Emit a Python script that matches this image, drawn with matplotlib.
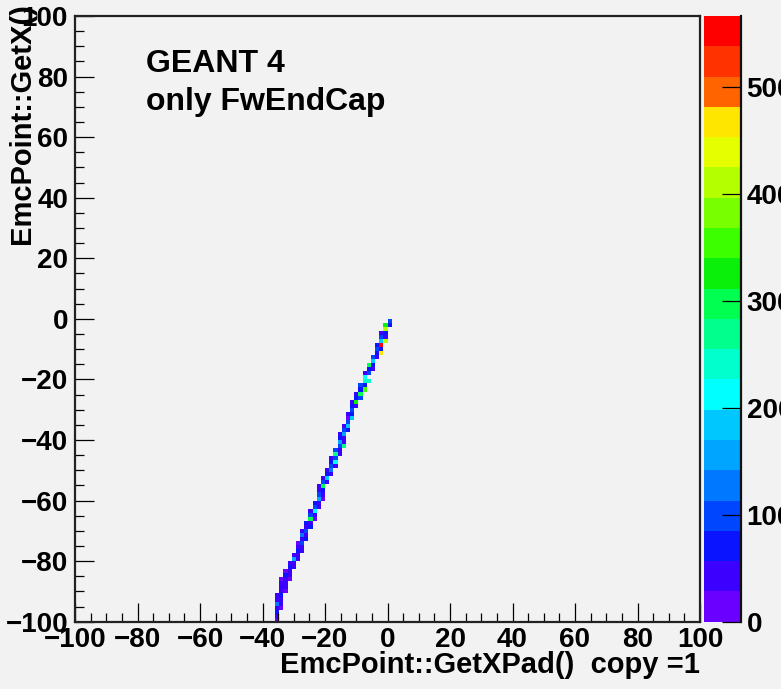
import numpy as np
import matplotlib
matplotlib.use("Agg")
import matplotlib.pyplot as plt
from matplotlib.colors import ListedColormap, BoundaryNorm

plt.rcParams['font.family'] = ['Liberation Sans', 'DejaVu Sans']
plt.rcParams['font.weight'] = 'bold'

# hit cells, one row of y per line: x centre, y centre, entries
cell_x = [0.67,
          -0.67, 0.67,
          -0.67,
          -0.67, -2.0,
          -2.0, -0.67,
          -0.67, -2.0,
          -2.0, -3.33,
          -3.33, -2.0,
          -2.0, -3.33,
          -4.67, -3.33,
          -4.67,
          -6.0, -4.67,
          -6.0, -4.67,
          -7.33, -6.0,
          -7.33,
          -6.0, -7.33,
          -8.67, -7.33,
          -8.67, -7.33,
          -8.67, -10.0,
          -8.67, -10.0,
          -10.0, -11.33,
          -10.0, -11.33,
          -11.33,
          -11.33, -12.67,
          -12.67, -11.33,
          -12.67,
          -12.67, -14.0,
          -12.67, -14.0,
          -14.0, -15.33,
          -14.0, -15.33,
          -15.33, -14.0,
          -15.33, -14.0,
          -15.33, -16.67,
          -16.67, -15.33,
          -16.67, -18.0,
          -16.67, -18.0,
          -18.0, -16.67,
          -18.0, -19.33,
          -19.33, -18.0,
          -19.33, -20.67,
          -19.33, -20.67,
          -20.67, -22.0,
          -20.67, -22.0,
          -22.0, -20.67,
          -22.0, -20.67,
          -22.0, -23.33,
          -23.33, -22.0,
          -23.33, -24.67,
          -23.33, -24.67,
          -24.67, -23.33,
          -24.67, -26.0,
          -26.0, -24.67,
          -26.0, -27.33,
          -26.0, -27.33,
          -27.33, -26.0,
          -27.33, -28.67,
          -27.33, -28.67,
          -28.67, -27.33,
          -28.67, -30.0,
          -30.0, -28.67,
          -30.0, -31.33,
          -30.0, -31.33,
          -31.33, -32.67,
          -31.33, -32.67,
          -32.67, -31.33, -34.0,
          -32.67, -34.0,
          -32.67, -34.0,
          -34.0, -32.67,
          -34.0, -35.33,
          -34.0, -35.33,
          -35.33, -34.0,
          -35.33, -34.0,
          -35.33,
          -35.33,
          -35.33]
cell_y = [-0.67,
          -2.0, -2.0,
          -3.33,
          -4.67, -4.67,
          -6.0, -6.0,
          -7.33, -7.33,
          -8.67, -8.67,
          -10.0, -10.0,
          -11.33, -11.33,
          -12.67, -12.67,
          -14.0,
          -15.33, -15.33,
          -16.67, -16.67,
          -18.0, -18.0,
          -19.33,
          -20.67, -20.67,
          -22.0, -22.0,
          -23.33, -23.33,
          -24.67, -24.67,
          -26.0, -26.0,
          -27.33, -27.33,
          -28.67, -28.67,
          -30.0,
          -31.33, -31.33,
          -32.67, -32.67,
          -34.0,
          -35.33, -35.33,
          -36.67, -36.67,
          -38.0, -38.0,
          -39.33, -39.33,
          -40.67, -40.67,
          -42.0, -42.0,
          -43.33, -43.33,
          -44.67, -44.67,
          -46.0, -46.0,
          -47.33, -47.33,
          -48.67, -48.67,
          -50.0, -50.0,
          -51.33, -51.33,
          -52.67, -52.67,
          -54.0, -54.0,
          -55.33, -55.33,
          -56.67, -56.67,
          -58.0, -58.0,
          -59.33, -59.33,
          -60.67, -60.67,
          -62.0, -62.0,
          -63.33, -63.33,
          -64.67, -64.67,
          -66.0, -66.0,
          -67.33, -67.33,
          -68.67, -68.67,
          -70.0, -70.0,
          -71.33, -71.33,
          -72.67, -72.67,
          -74.0, -74.0,
          -75.33, -75.33,
          -76.67, -76.67,
          -78.0, -78.0,
          -79.33, -79.33,
          -80.67, -80.67,
          -82.0, -82.0,
          -83.33, -83.33,
          -84.67, -84.67,
          -86.0, -86.0, -86.0,
          -87.33, -87.33,
          -88.67, -88.67,
          -90.0, -90.0,
          -91.33, -91.33,
          -92.67, -92.67,
          -94.0, -94.0,
          -95.33, -95.33,
          -96.67,
          -98.0,
          -99.33]
cell_n = [90,
          330, 70,
          420,
          60, 50,
          110, 40,
          400, 190,
          540, 80,
          90, 60,
          460, 70,
          100, 40,
          180,
          300, 60,
          80, 30,
          40, 90,
          220,
          250, 230,
          100, 60,
          70, 360,
          290, 40,
          90, 60,
          320, 30,
          30, 70,
          110,
          70, 40,
          20, 180,
          100,
          170, 50,
          60, 90,
          160, 30,
          40, 80,
          150, 40,
          110, 280,
          40, 90,
          260, 50,
          100, 30,
          200, 70,
          110, 40,
          140, 40,
          80, 50,
          190, 30,
          30, 90,
          290, 40,
          80, 30,
          110, 50,
          150, 20,
          40, 80,
          100, 40,
          200, 30,
          40, 90,
          290, 25,
          50, 80,
          40, 70,
          100, 40,
          40, 140,
          40, 70,
          90, 20,
          50, 40,
          80, 30,
          45, 35,
          150, 30,
          40, 30,
          40, 70,
          45, 25,
          30, 60,
          40, 20, 15,
          45, 30,
          35, 40,
          50, 25,
          60, 40,
          40, 45,
          130, 30,
          40, 20,
          70,
          40,
          25]

z_max = 566
z_ticks = [0, 100, 200, 300, 400, 500]
palette = ['#6a00ff', '#3c00ff', '#0a14ff', '#0046ff', '#0078ff',
           '#00a5ff', '#00c8ff', '#00ffff', '#00ffcc', '#00ff8c',
           '#00ff50', '#0af00a', '#3cff00', '#78ff00', '#b4ff00',
           '#e6ff00', '#ffe600', '#ff9b00', '#ff6400', '#ff3200']
palette[-1] = '#ff0000'
palette[-2] = '#ff3200'
palette[-3] = '#ff6400'

bg = '#f2f2f2'
W, H = 781, 689
fig = plt.figure(figsize=(W / 100, H / 100), dpi=100, facecolor=bg)

L, R, T, B = 75, 700, 16, 621.7
ax = fig.add_axes([L / W, 1 - B / H, (R - L) / W, (B - T) / H], facecolor=bg)

cmap = ListedColormap(palette)
norm = BoundaryNorm(np.linspace(0, z_max, len(palette) + 1), cmap.N)
h = ax.hist2d(cell_x, cell_y, bins=150, range=[[-100, 100], [-100, 100]],
              weights=cell_n, cmap=cmap, norm=norm, cmin=1)

ax.set_xlim(-100, 100)
ax.set_ylim(-100, 100)
ax.set_xticks(np.arange(-100, 101, 20))
ax.set_yticks(np.arange(-100, 101, 20))
ax.set_xticks(np.arange(-100, 101, 5), minor=True)
ax.set_yticks(np.arange(-100, 101, 5), minor=True)
ax.tick_params(which='major', direction='in', length=13.5, width=0.9,
               labelsize=20, pad=4)
ax.tick_params(which='minor', direction='in', length=6.8, width=0.9)
ax.tick_params(axis='y', pad=5)
for s in ax.spines.values():
    s.set_linewidth(1.6)
    s.set_color('#222222')

# colour scale
cax = fig.add_axes([704 / W, 1 - B / H, 37 / W, (B - T) / H])
cb = fig.colorbar(h[3], cax=cax, ticks=z_ticks)
cb.outline.set_visible(False)
cax.set_ylim(0, z_max)
cax.minorticks_off()
cax.tick_params(direction='in', length=13.5, width=0.9, labelsize=20, pad=4)
cax.plot([1, 1], [0, 1], transform=cax.transAxes, color='#111111', lw=1.6,
         clip_on=False)

fig.text(146 / W, 1 - 72 / H, 'GEANT 4', fontsize=23)
fig.text(146 / W, 1 - 110 / H, 'only FwEndCap', fontsize=23)

fig.text(R / W, 1 - 665 / H, 'EmcPoint::GetXPad()  copy =1', fontsize=21,
         ha='right', va='center')
fig.text(22 / W, 1 - 3 / H, 'EmcPoint::GetX()', fontsize=21, rotation=90,
         ha='center', va='top')

fig.savefig('out.png', dpi=100, facecolor=bg)
